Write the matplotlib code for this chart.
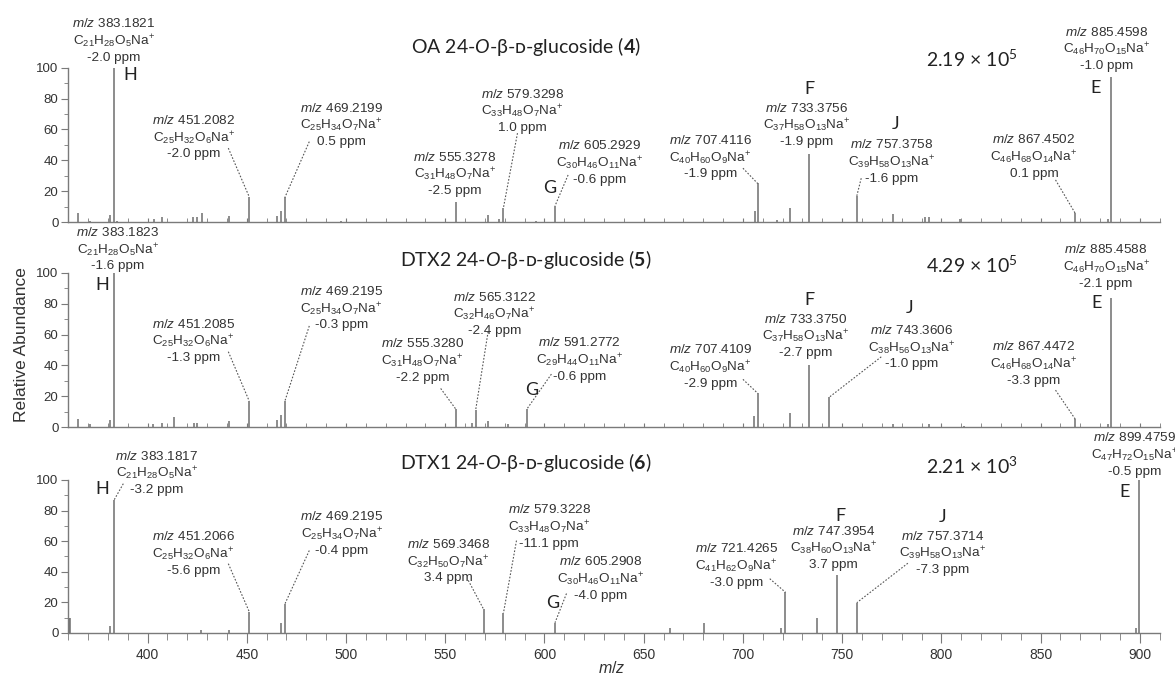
import matplotlib
matplotlib.use("Agg")
from matplotlib import pyplot as plt
from matplotlib.ticker import MultipleLocator

plt.rcParams["font.family"] = ["Liberation Sans", "DejaVu Sans"]
plt.rcParams["mathtext.fontset"] = "custom"
plt.rcParams["mathtext.rm"] = "Liberation Sans"
plt.rcParams["mathtext.it"] = "Liberation Sans:italic"
plt.rcParams["mathtext.bf"] = "Lato:bold"
plt.rcParams["mathtext.sf"] = "Lato:italic"
plt.rcParams["mathtext.tt"] = "Lato"

# --- spectra (m/z, relative abundance) ---
oa_mz = [365.2, 371.0, 381.2, 383.18, 384.7, 403.1, 407.5, 423.1, 424.8, 427.3,
         441.2, 451.21, 465.1, 467.3, 469.22, 497.3, 555.33, 571.6, 577.2, 579.33,
         595.5, 605.29, 705.9, 707.41, 717.3, 723.9, 733.38, 757.38, 775.6, 791.8,
         793.5, 809.6, 867.45, 883.8, 885.46]
oa_ab = [6, 1, 4.5, 100, 1, 2, 3, 3, 3.5, 6,
         4, 16.4, 4, 7, 16, 1, 13, 4.5, 2, 9.3,
         1, 10.4, 7, 25, 1.5, 8.9, 44, 17, 5, 3,
         3, 2, 5.6, 2, 93.7]

dtx2_mz = [365.2, 371.0, 381.2, 383.18, 403.0, 407.5, 413.4, 423.6, 425.1, 441.2,
           451.21, 465.1, 467.3, 469.22, 555.33, 563.3, 565.31, 571.6, 581.4, 591.28,
           705.4, 707.41, 723.9, 733.38, 743.36, 775.6, 793.8, 811.3, 867.45, 883.8,
           885.46]
dtx2_ab = [5.6, 2, 4.5, 100, 2, 3, 6.3, 3, 3, 4,
           17, 4.5, 8, 17, 11.7, 3, 11, 4, 2, 12,
           7, 22, 9.3, 40, 19.3, 2, 2, 1, 5.2, 2,
           84]

dtx1_mz = [360.3, 361.1, 381.2, 383.18, 427.0, 441.0, 451.21, 467.3, 469.22, 569.35,
           579.32, 605.29, 663.1, 680.2, 719.4, 721.43, 737.5, 747.40, 757.37, 897.8,
           899.48]
dtx1_ab = [10, 10, 4.6, 87, 2, 2, 14, 6.7, 19, 15.5,
           13, 6.7, 3, 6.7, 3, 26.6, 9.6, 38, 19.8, 3,
           100]

titles = ["OA 24-$\\mathsf{O}$-\u03b2-\u1d05-glucoside ($\\mathbf{4}$)",
          "DTX2 24-$\\mathsf{O}$-\u03b2-\u1d05-glucoside ($\\mathbf{5}$)",
          "DTX1 24-$\\mathsf{O}$-\u03b2-\u1d05-glucoside ($\\mathbf{6}$)"]
totals = ["2.19 \u00d7 10$^{\\mathtt{5}}$", "4.29 \u00d7 10$^{\\mathtt{5}}$",
          "2.21 \u00d7 10$^{\\mathtt{3}}$"]

# --- annotations: (m/z, formula, ppm) ---
oa_labels = [("383.1821", "C$_{21}$H$_{28}$O$_{5}$Na$^{+}$", "-2.0"),
             ("451.2082", "C$_{25}$H$_{32}$O$_{6}$Na$^{+}$", "-2.0"),
             ("469.2199", "C$_{25}$H$_{34}$O$_{7}$Na$^{+}$", "0.5"),
             ("555.3278", "C$_{31}$H$_{48}$O$_{7}$Na$^{+}$", "-2.5"),
             ("579.3298", "C$_{33}$H$_{48}$O$_{7}$Na$^{+}$", "1.0"),
             ("605.2929", "C$_{30}$H$_{46}$O$_{11}$Na$^{+}$", "-0.6"),
             ("707.4116", "C$_{40}$H$_{60}$O$_{9}$Na$^{+}$", "-1.9"),
             ("733.3756", "C$_{37}$H$_{58}$O$_{13}$Na$^{+}$", "-1.9"),
             ("757.3758", "C$_{39}$H$_{58}$O$_{13}$Na$^{+}$", "-1.6"),
             ("867.4502", "C$_{46}$H$_{68}$O$_{14}$Na$^{+}$", "0.1"),
             ("885.4598", "C$_{46}$H$_{70}$O$_{15}$Na$^{+}$", "-1.0")]
dtx2_labels = [("383.1823", "C$_{21}$H$_{28}$O$_{5}$Na$^{+}$", "-1.6"),
               ("451.2085", "C$_{25}$H$_{32}$O$_{6}$Na$^{+}$", "-1.3"),
               ("469.2195", "C$_{25}$H$_{34}$O$_{7}$Na$^{+}$", "-0.3"),
               ("555.3280", "C$_{31}$H$_{48}$O$_{7}$Na$^{+}$", "-2.2"),
               ("565.3122", "C$_{32}$H$_{46}$O$_{7}$Na$^{+}$", "-2.4"),
               ("591.2772", "C$_{29}$H$_{44}$O$_{11}$Na$^{+}$", "-0.6"),
               ("707.4109", "C$_{40}$H$_{60}$O$_{9}$Na$^{+}$", "-2.9"),
               ("733.3750", "C$_{37}$H$_{58}$O$_{13}$Na$^{+}$", "-2.7"),
               ("743.3606", "C$_{38}$H$_{56}$O$_{13}$Na$^{+}$", "-1.0"),
               ("867.4472", "C$_{46}$H$_{68}$O$_{14}$Na$^{+}$", "-3.3"),
               ("885.4588", "C$_{46}$H$_{70}$O$_{15}$Na$^{+}$", "-2.1")]
dtx1_labels = [("383.1817", "C$_{21}$H$_{28}$O$_{5}$Na$^{+}$", "-3.2"),
               ("451.2066", "C$_{25}$H$_{32}$O$_{6}$Na$^{+}$", "-5.6"),
               ("469.2195", "C$_{25}$H$_{34}$O$_{7}$Na$^{+}$", "-0.4"),
               ("569.3468", "C$_{32}$H$_{50}$O$_{7}$Na$^{+}$", "3.4"),
               ("579.3228", "C$_{33}$H$_{48}$O$_{7}$Na$^{+}$", "-11.1"),
               ("605.2908", "C$_{30}$H$_{46}$O$_{11}$Na$^{+}$", "-4.0"),
               ("721.4265", "C$_{41}$H$_{62}$O$_{9}$Na$^{+}$", "-3.0"),
               ("747.3954", "C$_{38}$H$_{60}$O$_{13}$Na$^{+}$", "3.7"),
               ("757.3714", "C$_{39}$H$_{58}$O$_{13}$Na$^{+}$", "-7.3"),
               ("899.4759", "C$_{47}$H$_{72}$O$_{15}$Na$^{+}$", "-0.5")]

# fragment letters
letters = ["H", "G", "F", "J", "E"]

# --- layout (label centre, leader start, letter positions) in data units ---
oa_pos = [(383.1, 117.7), (423.3, 55.0), (497.6, 63.0), (554.9, 31.2), (588.9, 72.1),
          (627.9, 38.5), (683.5, 42.0), (731.9, 63.0), (775.0, 39.2), (846.6, 42.4),
          (883.0, 112.1)]
oa_lead = [None, (440.7, 47.9), (481.5, 52.1), None, (586.4, 57.6), (611.9, 30.5),
           (700.0, 34.9), None, (759.6, 28.4), (857.5, 27.3), None]
oa_let = [(391.2, 95.5), (602.7, 21.9), (733.6, 86.2), (776.9, 63.6), (877.6, 86.8)]

dtx2_pos = [(385.0, 115.4), (423.1, 56.0), (497.6, 77.1), (538.5, 43.1), (574.8, 73.4),
            (617.8, 44.0), (683.5, 39.2), (731.7, 59.1), (785.1, 51.8), (846.6, 41.4),
            (883.0, 104.1)]
dtx2_lead = [None, (440.7, 48.9), (481.5, 65.6), (547.7, 25.1), (571.6, 61.9),
             (603.5, 34.4), (700.0, 31.0), None, (769.7, 45.6), (857.5, 24.0), None]
dtx2_let = [(377.0, 92.2), (593.5, 24.0), (733.6, 82.5), (783.9, 77.1), (878.3, 80.3)]

dtx1_pos = [(404.7, 104.7), (423.1, 52.1), (497.8, 65.1), (551.5, 46.9), (602.4, 69.5),
            (628.1, 35.5), (696.7, 44.2), (745.6, 55.6), (800.6, 52.4), (897.3, 116.7)]
dtx1_lead = [(387.8, 97.6), (440.7, 45.3), (481.5, 53.9), (561.6, 34.4), (585.9, 60.4),
             (611.1, 25.8), (713.5, 35.5), None, (783.1, 45.6), None]
dtx1_let = [(377.0, 94.0), (604.0, 19.3), (749.2, 76.6), (800.7, 75.5), (892.2, 92.4)]

panels = [
    (oa_mz, oa_ab, oa_labels, oa_pos, oa_lead, oa_let, [0.058, 0.672, 0.929, 0.228]),
    (dtx2_mz, dtx2_ab, dtx2_labels, dtx2_pos, dtx2_lead, dtx2_let, [0.058, 0.369, 0.929, 0.228]),
    (dtx1_mz, dtx1_ab, dtx1_labels, dtx1_pos, dtx1_lead, dtx1_let, [0.058, 0.065, 0.929, 0.226]),
]
title_y = [113.8, 108.4, 111.2]
total_y = [105.2, 105.2, 109.1]

LINE = "#6e6e6e"
TEXT = "#333333"
TITLE_FONT = ["Lato", "DejaVu Sans"]

fig = plt.figure(figsize=(11.75, 6.77), dpi=100)

for i, (mz, ab, labels, pos, lead, let, rect) in enumerate(panels):
    ax = fig.add_axes(rect)
    ax.vlines(mz, 0, ab, color=LINE, lw=1.1)
    ax.set_xlim(360, 910)
    ax.set_ylim(0, 100)
    for s in ["top", "right"]:
        ax.spines[s].set_visible(False)
    for s in ["left", "bottom"]:
        ax.spines[s].set_color("#7a7a7a")
        ax.spines[s].set_linewidth(1.0)

    ax.yaxis.set_major_locator(MultipleLocator(20))
    ax.yaxis.set_minor_locator(MultipleLocator(10))
    ax.xaxis.set_major_locator(MultipleLocator(50))
    ax.xaxis.set_minor_locator(MultipleLocator(10))
    ax.tick_params(axis="y", which="major", direction="out", length=5, color="#7a7a7a",
                   labelsize=9.5, labelcolor=TEXT, pad=2)
    ax.tick_params(axis="y", which="minor", direction="out", length=3, color="#7a7a7a")
    if i < 2:
        ax.tick_params(axis="x", which="both", direction="in", length=3, color="#7a7a7a",
                       labelbottom=False)
    else:
        ax.tick_params(axis="x", which="major", direction="out", length=7, color="#7a7a7a",
                       labelsize=10, labelcolor=TEXT, pad=4)
        ax.tick_params(axis="x", which="minor", direction="out", length=5, color="#7a7a7a")

    for (m, formula, ppm), (x, y), ld in zip(labels, pos, lead):
        ax.text(x, y, "$\\mathit{m/z}$ " + m + "\n" + formula + "\n" + ppm + " ppm",
                ha="center", va="center", multialignment="center", fontsize=9.7,
                color=TEXT, linespacing=1.2, clip_on=False)
        if ld is not None:
            peak_x = float(m)
            peak_y = ab[min(range(len(mz)), key=lambda k: abs(mz[k] - peak_x))]
            ax.plot([ld[0], peak_x], [ld[1], peak_y], color="#555555", lw=0.8,
                    ls=(0, (1.5, 1.5)), clip_on=False)

    for ch, (x, y) in zip(letters, let):
        ax.text(x, y, ch, ha="center", va="center", fontsize=13, color="#222222",
                family=TITLE_FONT, clip_on=False)

    ax.text(590.5, title_y[i], titles[i], ha="center", va="center", fontsize=14,
            color="#222222", family=TITLE_FONT, clip_on=False)
    ax.text(815.4, total_y[i], totals[i], ha="center", va="center", fontsize=14,
            color="#222222", family=TITLE_FONT, clip_on=False)

fig.text(0.018, 1 - 345 / 677, "Relative Abundance", rotation=90, ha="center",
         va="center", fontsize=12.5, color=TEXT)
fig.text(611.7 / 1175, 1 - 668 / 677, "$\\mathit{m/z}$", ha="center", va="center",
         fontsize=11.5, color=TEXT)

fig.savefig("out.png", dpi=100)
